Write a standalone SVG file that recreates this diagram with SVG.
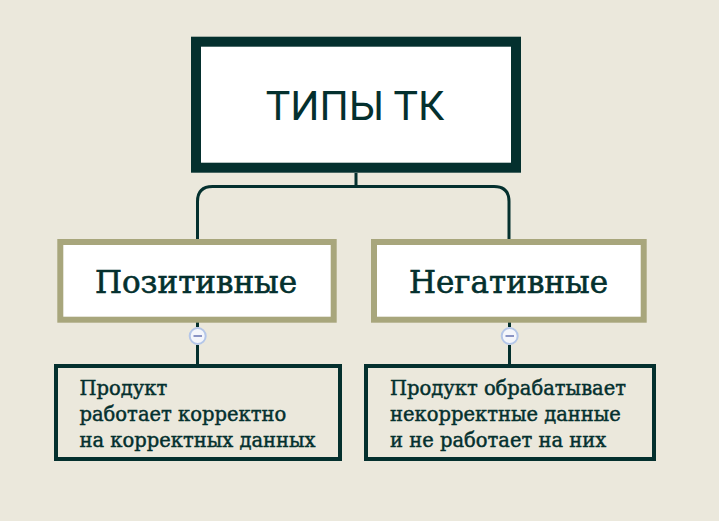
<svg xmlns="http://www.w3.org/2000/svg" width="719" height="521" viewBox="0 0 719 521">
<style>
.bg{fill:#ebe8dc}
.conn{fill:none;stroke:#04302e;stroke-width:3}
.main{fill:#ffffff;stroke:#04302e;stroke-width:10}
.cat{fill:#ffffff;stroke:#a8a67c;stroke-width:6}
.leaf{fill:#ebe8dc;stroke:#04302e;stroke-width:4}
.t1{font-family:Roboto,"Liberation Sans",sans-serif;font-size:41px;fill:#04302e;text-anchor:middle}
.t2{font-family:"DejaVu Serif","Liberation Serif",serif;font-size:31px;fill:#04302e;stroke:#04302e;stroke-width:0.6;text-anchor:middle}
.t3{font-family:"DejaVu Serif","Liberation Serif",serif;font-size:19.5px;fill:#04302e;stroke:#04302e;stroke-width:0.45}
.tog circle{fill:#f4f6fb;stroke:#b4c6e8;stroke-width:2}
.tog line{stroke:#8a94c4;stroke-width:2}
</style>
<rect class="bg" x="0" y="0" width="719" height="521"/>
<g id="connectors">
<path class="conn" d="M356 173 V186.5 M197.5 240 V201.5 Q197.5 186.5 212.5 186.5 H494 Q509 186.5 509 201.5 V240"/>
<path class="conn" d="M197.5 322 V327 M197.5 345 V365"/>
<path class="conn" d="M509.5 322 V327 M509.5 345 V365"/>
</g>
<g id="node-main">
<rect class="main" x="196" y="41.7" width="320" height="126"/>
<text class="t1" x="355" y="119.5">ТИПЫ ТК</text>
</g>
<g id="node-positive">
<rect class="cat" x="60.3" y="242" width="273.4" height="77.7"/>
<text class="t2" x="196" y="293">Позитивные</text>
<g class="tog"><circle cx="197.7" cy="336" r="8"/><line x1="193.5" y1="336" x2="202" y2="336"/></g>
</g>
<g id="node-negative">
<rect class="cat" x="374" y="242" width="269.7" height="77.7"/>
<text class="t2" x="508.5" y="293">Негативные</text>
<g class="tog"><circle cx="509.7" cy="336" r="8"/><line x1="505.5" y1="336" x2="514" y2="336"/></g>
</g>
<g id="node-positive-desc">
<rect class="leaf" x="56" y="366" width="284" height="93"/>
<text class="t3" x="79.5" y="395">Продукт</text>
<text class="t3" x="79.5" y="421">работает корректно</text>
<text class="t3" x="79.5" y="447">на корректных данных</text>
</g>
<g id="node-negative-desc">
<rect class="leaf" x="366" y="366" width="288" height="93"/>
<text class="t3" x="390" y="395">Продукт обрабатывает</text>
<text class="t3" x="390" y="421">некорректные данные</text>
<text class="t3" x="390" y="447">и не работает на них</text>
</g>
</svg>
